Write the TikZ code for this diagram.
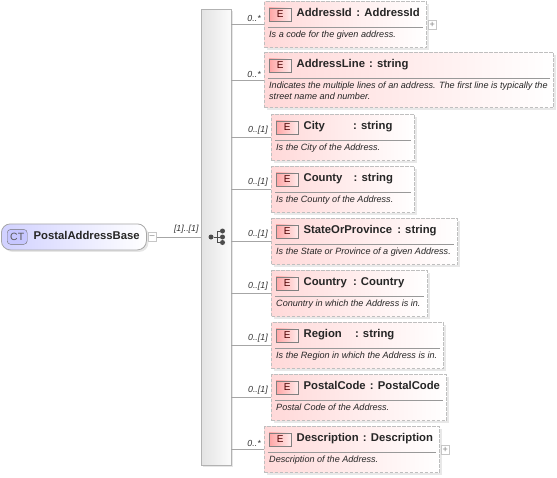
\documentclass[tikz,border=0pt]{standalone}
\usepackage{fontspec}
\setmainfont{Liberation Sans}
\usetikzlibrary{arrows.meta,positioning,shadows,calc}

\begin{document}
\begin{tikzpicture}[
    x=1pt, y=-1pt,
    node distance=4pt and 5pt,
    elem/.style={draw=gray!50, dash pattern=on 3.5pt off 1.5pt, line width=1pt, anchor=north west, minimum height=46pt, left color=red!15, right color=white, inner sep=0pt, drop shadow={opacity=0.18, shadow xshift=2.5pt, shadow yshift=-2.5pt}},
    badge/.style={draw=black!50, minimum width=22pt, minimum height=13pt, inner sep=0pt, left color=red!35, right color=red!8, text=red!30!black, font=\fontsize{10}{10}\selectfont},
    etitle/.style={inner sep=0pt, text height=8pt, text depth=2.5pt, text=black!85, font=\fontsize{11.3}{11.3}\selectfont\bfseries},
    edesc/.style={inner sep=0pt, anchor=north west, align=left, text=black!85, font=\fontsize{9.08}{11}\selectfont\itshape},
    rulel/.style={draw=gray!80, line width=0.5pt},
    conn/.style={draw=gray!70, line width=0.6pt},
    occurs/.style={inner sep=0pt, anchor=south east, xshift=-3pt, yshift=2.5pt, text=black!80, font=\fontsize{8.8}{8.8}\selectfont\itshape},
    pm/.style={draw=gray!45, fill=white, minimum size=8.5pt, inner sep=0pt, text=gray, font=\fontsize{9}{9}\selectfont},
    dot/.style={circle, fill=black!70, minimum size=5pt, inner sep=0pt}
]
\useasboundingbox (0,0) rectangle (557,477);

% sequence bar
\node[draw=gray!60, anchor=north west, minimum width=30pt, minimum height=456pt, inner sep=0pt, left color=gray!22, right color=gray!3, drop shadow={opacity=0.2, shadow xshift=2pt, shadow yshift=-2pt}] (spine) at (201,9) {};
\node[dot] (seqin) at (211,237) {};
\node[dot] (seqa) at (222.5,231) {};
\node[dot] (seqb) at (222.5,237) {};
\node[dot] (seqc) at (222.5,242.5) {};
\draw[black!70, line width=0.9pt] (seqin) -- (seqb) (217,231) -- (217,242.5) (217,231) -- (seqa) (217,242.5) -- (seqc);

% root type
\node[draw=gray!70, line width=0.8pt, rounded corners=9pt, anchor=north west, minimum width=145pt, minimum height=26pt, inner sep=0pt, shading angle=60, left color=blue!18, right color=white, drop shadow={opacity=0.2, shadow xshift=2pt, shadow yshift=-2pt}] (root) at (1,223.5) {};
\node[draw=black!55, rounded corners=3.5pt, minimum width=20pt, minimum height=15pt, inner sep=0pt, fill=blue!22, text=black!65, font=\fontsize{10.5}{10.5}\selectfont, right=6pt of root.west] (ctbadge) {CT};
\node[etitle, right=6pt of ctbadge] (rootname) {PostalAddressBase};
\node[pm, right=0.8pt of root] (rootminus) {--};
\draw[conn] (rootminus) -- (rootminus -| spine.west) node[occurs, pos=0.95, xshift=3pt, yshift=1pt] {[1]..[1]};

% elements
\node[elem, minimum width=162pt] (addrid) at (264,1) {};
\node[badge, below right=6.5pt and 5pt of addrid.north west] (eaddrid) {E};
\node[etitle, right=5pt of eaddrid] {AddressId\hspace{1.5pt} : AddressId};
\draw[rulel] ($(addrid.north west)+(4,26)$) -- ($(addrid.north east)+(-4,26)$);
\node[edesc] at ($(addrid.north west)+(5,29.5)$) {Is a code for the given address.};
\node[pm, right=0.8pt of addrid] (addridplus) {+};

\node[elem, minimum width=289pt, minimum height=55pt] (addrline) at (264,52) {};
\node[badge, below right=6.5pt and 5pt of addrline.north west] (eaddrline) {E};
\node[etitle, right=5pt of eaddrline] {AddressLine\hspace{1pt} : string};
\draw[rulel] ($(addrline.north west)+(4,26)$) -- ($(addrline.north east)+(-4,26)$);
\node[edesc] at ($(addrline.north west)+(5,29.5)$) {Indicates the multiple lines of an address. The first line is typically the\\street name and number.};

\node[elem, minimum width=143pt] (city) at (271,114) {};
\node[badge, below right=6.5pt and 5pt of city.north west] (ecity) {E};
\node[etitle, right=5pt of ecity] {City\hspace{25pt} : string};
\draw[rulel] ($(city.north west)+(4,26)$) -- ($(city.north east)+(-4,26)$);
\node[edesc] at ($(city.north west)+(5,29.5)$) {Is the City of the Address.};

\node[elem, minimum width=143pt] (county) at (271,166) {};
\node[badge, below right=6.5pt and 5pt of county.north west] (ecounty) {E};
\node[etitle, right=5pt of ecounty] {County\hspace{8pt} : string};
\draw[rulel] ($(county.north west)+(4,26)$) -- ($(county.north east)+(-4,26)$);
\node[edesc] at ($(county.north west)+(5,29.5)$) {Is the County of the Address.};

\node[elem, minimum width=186pt] (state) at (271,218) {};
\node[badge, below right=6.5pt and 5pt of state.north west] (estate) {E};
\node[etitle, right=5pt of estate] {StateOrProvince\hspace{2pt} : string};
\draw[rulel] ($(state.north west)+(4,26)$) -- ($(state.north east)+(-4,26)$);
\node[edesc] at ($(state.north west)+(5,29.5)$) {Is the State or Province of a given Address.};

\node[elem, minimum width=156pt] (country) at (271,270) {};
\node[badge, below right=6.5pt and 5pt of country.north west] (ecountry) {E};
\node[etitle, right=5pt of ecountry] {Country\hspace{3pt} : Country};
\draw[rulel] ($(country.north west)+(4,26)$) -- ($(country.north east)+(-4,26)$);
\node[edesc] at ($(country.north west)+(5,29.5)$) {Conuntry in which the Address is in.};

\node[elem, minimum width=172pt] (region) at (271,322) {};
\node[badge, below right=6.5pt and 5pt of region.north west] (eregion) {E};
\node[etitle, right=5pt of eregion] {Region\hspace{10pt} : string};
\draw[rulel] ($(region.north west)+(4,26)$) -- ($(region.north east)+(-4,26)$);
\node[edesc] at ($(region.north west)+(5,29.5)$) {Is the Region in which the Address is in.};

\node[elem, minimum width=175pt] (postal) at (271,374) {};
\node[badge, below right=6.5pt and 5pt of postal.north west] (epostal) {E};
\node[etitle, right=5pt of epostal] {PostalCode\hspace{1pt} : PostalCode};
\draw[rulel] ($(postal.north west)+(4,26)$) -- ($(postal.north east)+(-4,26)$);
\node[edesc] at ($(postal.north west)+(5,29.5)$) {Postal Code of the Address.};

\node[elem, minimum width=175pt] (descr) at (264,426) {};
\node[badge, below right=6.5pt and 5pt of descr.north west] (edescr) {E};
\node[etitle, right=5pt of edescr] {Description\hspace{1pt} : Description};
\draw[rulel] ($(descr.north west)+(4,26)$) -- ($(descr.north east)+(-4,26)$);
\node[edesc] at ($(descr.north west)+(5,29.5)$) {Description of the Address.};
\node[pm, right=0.8pt of descr] (descrplus) {+};

% connectors from the bar
\draw[conn] (spine.east |- addrid.west) -- (addrid.west) node[occurs] {0..*};
\draw[conn] (spine.east |- addrline.west) -- (addrline.west) node[occurs] {0..*};
\draw[conn] (spine.east |- city.west) -- (city.west) node[occurs] {0..[1]};
\draw[conn] (spine.east |- county.west) -- (county.west) node[occurs] {0..[1]};
\draw[conn] (spine.east |- state.west) -- (state.west) node[occurs] {0..[1]};
\draw[conn] (spine.east |- country.west) -- (country.west) node[occurs] {0..[1]};
\draw[conn] (spine.east |- region.west) -- (region.west) node[occurs] {0..[1]};
\draw[conn] (spine.east |- postal.west) -- (postal.west) node[occurs] {0..[1]};
\draw[conn] (spine.east |- descr.west) -- (descr.west) node[occurs] {0..*};
\end{tikzpicture}
\end{document}
